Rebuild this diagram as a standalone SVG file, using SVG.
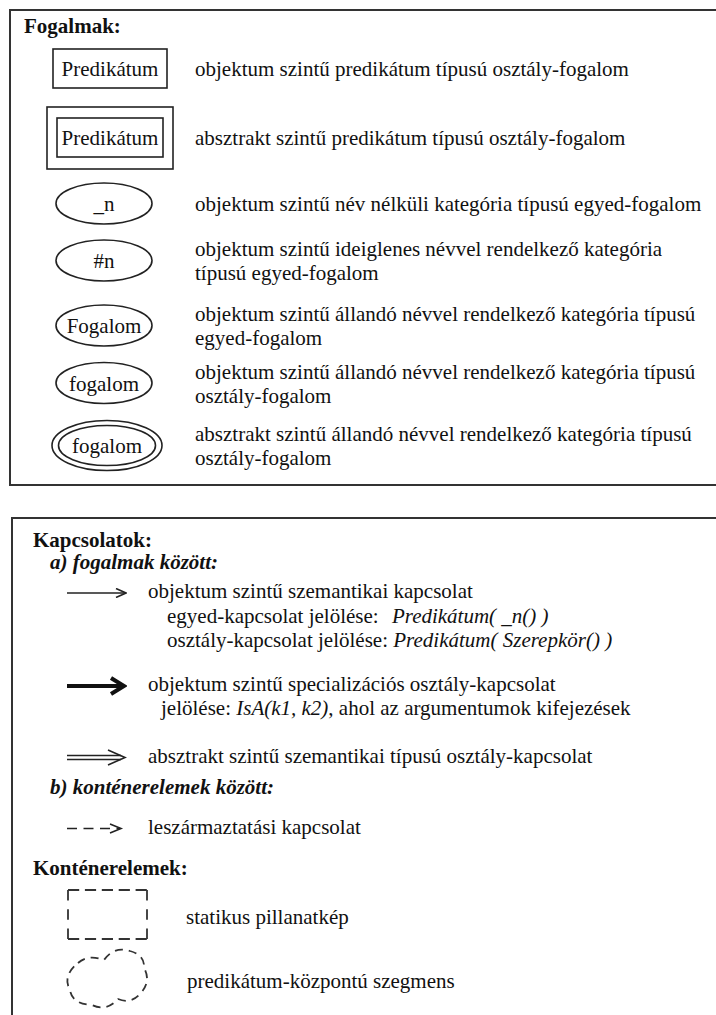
<svg xmlns="http://www.w3.org/2000/svg" width="716" height="1015" viewBox="0 0 716 1015" font-family="'Liberation Serif', 'Times New Roman', Times, serif">
<style>
text{font-family:'Liberation Serif','Times New Roman',Times,serif;font-size:21px;fill:#111}
.b{font-weight:bold}
.bi{font-weight:bold;font-style:italic}
.i{font-style:italic}
.lbl{text-anchor:middle}
.frame{fill:none;stroke:#333;stroke-width:2}
.shape{fill:none;stroke:#222;stroke-width:1.6}
.ln{fill:none;stroke:#222;stroke-width:1.6}
.thick{fill:none;stroke:#111;stroke-width:4}
.dashtb{fill:none;stroke:#333;stroke-width:1.8;stroke-dasharray:11.2 5.7}
.dashlr{fill:none;stroke:#333;stroke-width:1.8;stroke-dasharray:10.5 8.75}
.cloud{fill:none;stroke:#333;stroke-width:1.8;stroke-dasharray:8 6}
.dashln{fill:none;stroke:#222;stroke-width:1.6;stroke-dasharray:10 6.5}
</style>
<defs>
<marker id="head" markerUnits="userSpaceOnUse" viewBox="0 0 12 10" refX="11" refY="5" markerWidth="12" markerHeight="10" orient="auto"><path d="M1,0.5 L11,5 L1,9.5" fill="none" stroke="#222" stroke-width="1.6"/></marker>
<marker id="headThick" markerUnits="userSpaceOnUse" viewBox="0 0 18 20" refX="15" refY="10" markerWidth="18" markerHeight="20" orient="auto"><path d="M2,2 L15,10 L2,18" fill="none" stroke="#111" stroke-width="4"/></marker>
</defs>
<rect width="716" height="1015" fill="#fff"/>

<g id="frames">
<rect class="frame" x="10" y="10" width="716" height="475"/>
<rect class="frame" x="12" y="518" width="716" height="520"/>
</g>

<g id="fogalmak-title"><text class="b" x="24" y="33">Fogalmak:</text></g>

<g id="c-pred-obj">
<rect class="shape" x="53" y="49" width="114" height="39"/>
<text class="lbl" x="110" y="76">Predikátum</text>
<text x="195" y="76">objektum szintű predikátum típusú osztály-fogalom</text>
</g>

<g id="c-pred-abs">
<rect class="shape" x="47" y="107" width="126" height="62"/>
<rect class="shape" x="57" y="118" width="106" height="39"/>
<text class="lbl" x="110" y="145">Predikátum</text>
<text x="195" y="145">absztrakt szintű predikátum típusú osztály-fogalom</text>
</g>

<g id="c-noname">
<ellipse class="shape" cx="104" cy="203.5" rx="48" ry="20.5"/>
<text class="lbl" x="104" y="211">_n</text>
<text x="195" y="211">objektum szintű név nélküli kategória típusú egyed-fogalom</text>
</g>

<g id="c-temp">
<ellipse class="shape" cx="104" cy="260.5" rx="48" ry="20.5"/>
<text class="lbl" x="104" y="268">#n</text>
<text x="195" y="256">objektum szintű ideiglenes névvel rendelkező kategória</text>
<text x="195" y="280">típusú egyed-fogalom</text>
</g>

<g id="c-perm-ent">
<ellipse class="shape" cx="104" cy="325.5" rx="48" ry="20.5"/>
<text class="lbl" x="104" y="333">Fogalom</text>
<text x="195" y="321">objektum szintű állandó névvel rendelkező kategória típusú</text>
<text x="195" y="345">egyed-fogalom</text>
</g>

<g id="c-perm-cls">
<ellipse class="shape" cx="104" cy="383" rx="48" ry="20.5"/>
<text class="lbl" x="104" y="390.5">fogalom</text>
<text x="195" y="378.5">objektum szintű állandó névvel rendelkező kategória típusú</text>
<text x="195" y="402.5">osztály-fogalom</text>
</g>

<g id="c-abs-cls">
<ellipse class="shape" cx="107" cy="445.5" rx="55" ry="25"/>
<ellipse class="shape" cx="107" cy="445.5" rx="48.5" ry="20"/>
<text class="lbl" x="107" y="453">fogalom</text>
<text x="195" y="441">absztrakt szintű állandó névvel rendelkező kategória típusú</text>
<text x="195" y="465">osztály-fogalom</text>
</g>

<g id="kapcsolatok-title">
<text class="b" x="33" y="547">Kapcsolatok:</text>
<text class="bi" x="50" y="569">a) fogalmak között:</text>
</g>

<g id="connectors">
<line class="ln" x1="67" y1="593" x2="126" y2="593" marker-end="url(#head)"/>
<line class="thick" x1="67" y1="686" x2="124" y2="686" marker-end="url(#headThick)"/>
<path class="ln" d="M67,755.5 H121 M67,759.5 H121"/>
<path class="ln" d="M108,750 L125,757.5 L108,765"/>
<path class="dashln" d="M67,828.5 H120"/>
<path class="ln" d="M110,824 L121,828.5 L110,833"/>
</g>

<g id="r-sem">
<text x="148" y="598">objektum szintű szemantikai kapcsolat</text>
<text x="167" y="622.5">egyed-kapcsolat jelölése: <tspan class="i" dx="8">Predikátum( _n() )</tspan></text>
<text x="167" y="647">osztály-kapcsolat jelölése: <tspan class="i">Predikátum( Szerepkör() )</tspan></text>
</g>

<g id="r-spec">
<text x="148" y="691">objektum szintű specializációs osztály-kapcsolat</text>
<text x="161" y="715">jelölése: <tspan class="i">IsA(k1, k2)</tspan>, ahol az argumentumok kifejezések</text>
</g>

<g id="r-abs">
<text x="148" y="763">absztrakt szintű szemantikai típusú osztály-kapcsolat</text>
</g>

<g id="b-title"><text class="bi" x="50" y="794">b) konténerelemek között:</text></g>

<g id="r-derive">
<text x="148" y="834">leszármaztatási kapcsolat</text>
</g>

<g id="kontener-title"><text class="b" x="33" y="875">Konténerelemek:</text></g>

<g id="k-snapshot">
<path class="dashtb" d="M68,890 H147 M68,939 H147"/>
<path class="dashlr" d="M68,890 V939 M147,890 V939"/>
<text x="186" y="924">statikus pillanatkép</text>
</g>

<g id="k-segment">
<path class="cloud" d="M78,963 Q88,954 104,960 Q114,946 130,951 Q145,955 144,968 Q152,982 139,995 Q130,1004 118,999 Q106,1012 92,1005 Q72,1004 70,990 Q62,976 78,963 Z"/>
<text x="187" y="988">predikátum-központú szegmens</text>
</g>
</svg>
